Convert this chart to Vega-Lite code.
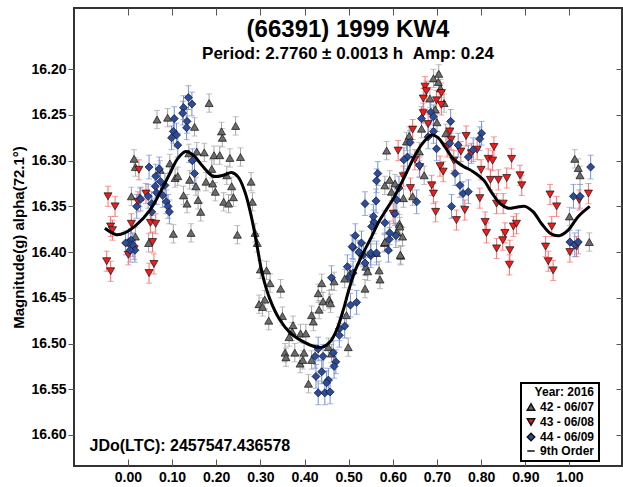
{
"$schema": "https://vega.github.io/schema/vega-lite/v6.json",
"width": 548, "height": 458,
"autosize": {"type": "none"},
"padding": {"left": 74, "top": 8, "right": 1, "bottom": 21},
"background": "white",
"config": {
  "font": "Liberation Sans",
  "view": {"stroke": "#333333", "strokeWidth": 2},
  "axis": {"labelFont": "Liberation Sans", "labelFontWeight": "bold", "labelFontSize": 14, "labelColor": "black", "titleFont": "Liberation Sans", "titleFontWeight": "bold", "titleFontSize": 15, "titleColor": "black", "domain": false, "grid": false, "tickColor": "#555555", "tickWidth": 1},
  "legend": {"strokeColor": "black", "strokeWidth": 2}
},
"title": {"text": "(66391) 1999 KW4", "subtitle": "Period: 2.7760 ± 0.0013 h \u00a0Amp: 0.24", "anchor": "middle", "frame": "group", "offset": -54, "font": "Liberation Sans", "fontSize": 24, "fontWeight": "bold", "color": "black", "subtitleFont": "Liberation Sans", "subtitleFontSize": 17, "subtitleFontWeight": "bold", "subtitleColor": "black", "subtitlePadding": 4},
"datasets": {
"pts": [
{"s":"42 - 06/07","p":0.066,"m":16.255,"e":0.010},
{"s":"42 - 06/07","p":0.090,"m":16.253,"e":0.010},
{"s":"42 - 06/07","p":0.184,"m":16.237,"e":0.010},
{"s":"42 - 06/07","p":0.151,"m":16.263,"e":0.010},
{"s":"42 - 06/07","p":0.212,"m":16.268,"e":0.010},
{"s":"42 - 06/07","p":0.244,"m":16.262,"e":0.010},
{"s":"42 - 06/07","p":0.214,"m":16.275,"e":0.010},
{"s":"42 - 06/07","p":0.014,"m":16.298,"e":0.010},
{"s":"42 - 06/07","p":0.017,"m":16.307,"e":0.010},
{"s":"42 - 06/07","p":0.073,"m":16.310,"e":0.010},
{"s":"42 - 06/07","p":0.095,"m":16.303,"e":0.010},
{"s":"42 - 06/07","p":0.138,"m":16.292,"e":0.010},
{"s":"42 - 06/07","p":0.156,"m":16.290,"e":0.010},
{"s":"42 - 06/07","p":0.173,"m":16.291,"e":0.010},
{"s":"42 - 06/07","p":0.195,"m":16.294,"e":0.010},
{"s":"42 - 06/07","p":0.208,"m":16.294,"e":0.010},
{"s":"42 - 06/07","p":0.231,"m":16.297,"e":0.010},
{"s":"42 - 06/07","p":0.255,"m":16.296,"e":0.010},
{"s":"42 - 06/07","p":0.107,"m":16.319,"e":0.010},
{"s":"42 - 06/07","p":0.113,"m":16.317,"e":0.010},
{"s":"42 - 06/07","p":0.140,"m":16.321,"e":0.010},
{"s":"42 - 06/07","p":0.154,"m":16.328,"e":0.010},
{"s":"42 - 06/07","p":0.177,"m":16.323,"e":0.010},
{"s":"42 - 06/07","p":0.190,"m":16.309,"e":0.010},
{"s":"42 - 06/07","p":0.192,"m":16.325,"e":0.010},
{"s":"42 - 06/07","p":0.198,"m":16.334,"e":0.010},
{"s":"42 - 06/07","p":0.235,"m":16.328,"e":0.010},
{"s":"42 - 06/07","p":0.224,"m":16.316,"e":0.010},
{"s":"42 - 06/07","p":0.217,"m":16.345,"e":0.010},
{"s":"42 - 06/07","p":0.228,"m":16.347,"e":0.010},
{"s":"42 - 06/07","p":0.239,"m":16.340,"e":0.010},
{"s":"42 - 06/07","p":0.279,"m":16.323,"e":0.010},
{"s":"42 - 06/07","p":0.282,"m":16.345,"e":0.010},
{"s":"42 - 06/07","p":0.159,"m":16.343,"e":0.010},
{"s":"42 - 06/07","p":0.165,"m":16.356,"e":0.010},
{"s":"42 - 06/07","p":0.134,"m":16.347,"e":0.010},
{"s":"42 - 06/07","p":0.126,"m":16.338,"e":0.010},
{"s":"42 - 06/07","p":0.103,"m":16.380,"e":0.010},
{"s":"42 - 06/07","p":0.143,"m":16.379,"e":0.010},
{"s":"42 - 06/07","p":0.248,"m":16.381,"e":0.010},
{"s":"42 - 06/07","p":0.288,"m":16.379,"e":0.010},
{"s":"42 - 06/07","p":0.293,"m":16.390,"e":0.010},
{"s":"42 - 06/07","p":0.300,"m":16.419,"e":0.010},
{"s":"42 - 06/07","p":0.314,"m":16.420,"e":0.010},
{"s":"42 - 06/07","p":0.047,"m":16.390,"e":0.010},
{"s":"42 - 06/07","p":0.017,"m":16.383,"e":0.010},
{"s":"42 - 06/07","p":0.008,"m":16.339,"e":0.010},
{"s":"42 - 06/07","p":0.027,"m":16.340,"e":0.010},
{"s":"42 - 06/07","p":0.322,"m":16.434,"e":0.010},
{"s":"42 - 06/07","p":0.346,"m":16.440,"e":0.010},
{"s":"42 - 06/07","p":0.297,"m":16.457,"e":0.010},
{"s":"42 - 06/07","p":0.305,"m":16.460,"e":0.010},
{"s":"42 - 06/07","p":0.310,"m":16.452,"e":0.010},
{"s":"42 - 06/07","p":0.319,"m":16.475,"e":0.010},
{"s":"42 - 06/07","p":0.350,"m":16.470,"e":0.010},
{"s":"42 - 06/07","p":0.374,"m":16.480,"e":0.010},
{"s":"42 - 06/07","p":0.372,"m":16.487,"e":0.010},
{"s":"42 - 06/07","p":0.391,"m":16.489,"e":0.010},
{"s":"42 - 06/07","p":0.403,"m":16.489,"e":0.010},
{"s":"42 - 06/07","p":0.365,"m":16.493,"e":0.010},
{"s":"42 - 06/07","p":0.356,"m":16.510,"e":0.010},
{"s":"42 - 06/07","p":0.358,"m":16.515,"e":0.010},
{"s":"42 - 06/07","p":0.378,"m":16.510,"e":0.010},
{"s":"42 - 06/07","p":0.399,"m":16.510,"e":0.010},
{"s":"42 - 06/07","p":0.390,"m":16.522,"e":0.010},
{"s":"42 - 06/07","p":0.396,"m":16.518,"e":0.010},
{"s":"42 - 06/07","p":0.409,"m":16.544,"e":0.010},
{"s":"42 - 06/07","p":0.416,"m":16.518,"e":0.010},
{"s":"42 - 06/07","p":0.420,"m":16.476,"e":0.010},
{"s":"42 - 06/07","p":0.416,"m":16.469,"e":0.010},
{"s":"42 - 06/07","p":0.433,"m":16.463,"e":0.010},
{"s":"42 - 06/07","p":0.439,"m":16.434,"e":0.010},
{"s":"42 - 06/07","p":0.442,"m":16.454,"e":0.010},
{"s":"42 - 06/07","p":0.431,"m":16.445,"e":0.010},
{"s":"42 - 06/07","p":0.456,"m":16.452,"e":0.010},
{"s":"42 - 06/07","p":0.459,"m":16.456,"e":0.010},
{"s":"42 - 06/07","p":0.467,"m":16.432,"e":0.010},
{"s":"42 - 06/07","p":0.454,"m":16.504,"e":0.010},
{"s":"42 - 06/07","p":0.461,"m":16.511,"e":0.010},
{"s":"42 - 06/07","p":0.499,"m":16.504,"e":0.010},
{"s":"42 - 06/07","p":0.495,"m":16.469,"e":0.010},
{"s":"42 - 06/07","p":0.491,"m":16.429,"e":0.010},
{"s":"42 - 06/07","p":0.503,"m":16.423,"e":0.010},
{"s":"42 - 06/07","p":0.539,"m":16.416,"e":0.010},
{"s":"42 - 06/07","p":0.543,"m":16.421,"e":0.010},
{"s":"42 - 06/07","p":0.537,"m":16.440,"e":0.010},
{"s":"42 - 06/07","p":0.571,"m":16.430,"e":0.010},
{"s":"42 - 06/07","p":0.569,"m":16.420,"e":0.010},
{"s":"42 - 06/07","p":0.563,"m":16.401,"e":0.010},
{"s":"42 - 06/07","p":0.618,"m":16.404,"e":0.010},
{"s":"42 - 06/07","p":0.581,"m":16.390,"e":0.010},
{"s":"42 - 06/07","p":0.615,"m":16.369,"e":0.010},
{"s":"42 - 06/07","p":0.622,"m":16.383,"e":0.010},
{"s":"42 - 06/07","p":0.609,"m":16.378,"e":0.010},
{"s":"42 - 06/07","p":0.586,"m":16.289,"e":0.010},
{"s":"42 - 06/07","p":0.692,"m":16.210,"e":0.010},
{"s":"42 - 06/07","p":0.704,"m":16.205,"e":0.010},
{"s":"42 - 06/07","p":0.703,"m":16.214,"e":0.010},
{"s":"42 - 06/07","p":0.708,"m":16.221,"e":0.010},
{"s":"42 - 06/07","p":0.684,"m":16.232,"e":0.010},
{"s":"42 - 06/07","p":0.716,"m":16.237,"e":0.010},
{"s":"42 - 06/07","p":0.696,"m":16.244,"e":0.010},
{"s":"42 - 06/07","p":0.665,"m":16.265,"e":0.010},
{"s":"42 - 06/07","p":0.637,"m":16.273,"e":0.010},
{"s":"42 - 06/07","p":0.631,"m":16.279,"e":0.010},
{"s":"42 - 06/07","p":0.593,"m":16.321,"e":0.010},
{"s":"42 - 06/07","p":0.605,"m":16.325,"e":0.010},
{"s":"42 - 06/07","p":0.582,"m":16.327,"e":0.010},
{"s":"42 - 06/07","p":0.597,"m":16.334,"e":0.010},
{"s":"42 - 06/07","p":0.624,"m":16.341,"e":0.010},
{"s":"42 - 06/07","p":0.645,"m":16.339,"e":0.010},
{"s":"42 - 06/07","p":0.671,"m":16.316,"e":0.010},
{"s":"42 - 06/07","p":0.660,"m":16.290,"e":0.010},
{"s":"42 - 06/07","p":0.700,"m":16.258,"e":0.010},
{"s":"42 - 06/07","p":0.720,"m":16.270,"e":0.010},
{"s":"42 - 06/07","p":0.582,"m":16.389,"e":0.010},
{"s":"42 - 06/07","p":0.616,"m":16.372,"e":0.010},
{"s":"42 - 06/07","p":0.617,"m":16.403,"e":0.010},
{"s":"42 - 06/07","p":1.012,"m":16.298,"e":0.010},
{"s":"42 - 06/07","p":1.020,"m":16.308,"e":0.010},
{"s":"42 - 06/07","p":1.024,"m":16.316,"e":0.010},
{"s":"42 - 06/07","p":1.045,"m":16.389,"e":0.010},
{"s":"42 - 06/07","p":1.000,"m":16.361,"e":0.010},
{"s":"43 - 06/08","p":-0.045,"m":16.339,"e":0.011},
{"s":"43 - 06/08","p":-0.029,"m":16.350,"e":0.011},
{"s":"43 - 06/08","p":-0.039,"m":16.372,"e":0.011},
{"s":"43 - 06/08","p":-0.035,"m":16.376,"e":0.011},
{"s":"43 - 06/08","p":-0.048,"m":16.410,"e":0.011},
{"s":"43 - 06/08","p":-0.039,"m":16.421,"e":0.011},
{"s":"43 - 06/08","p":0.025,"m":16.310,"e":0.011},
{"s":"43 - 06/08","p":0.041,"m":16.336,"e":0.011},
{"s":"43 - 06/08","p":0.023,"m":16.345,"e":0.011},
{"s":"43 - 06/08","p":0.051,"m":16.368,"e":0.011},
{"s":"43 - 06/08","p":0.063,"m":16.369,"e":0.011},
{"s":"43 - 06/08","p":0.056,"m":16.389,"e":0.011},
{"s":"43 - 06/08","p":0.059,"m":16.413,"e":0.011},
{"s":"43 - 06/08","p":0.048,"m":16.423,"e":0.011},
{"s":"43 - 06/08","p":0.008,"m":16.369,"e":0.011},
{"s":"43 - 06/08","p":0.001,"m":16.403,"e":0.011},
{"s":"43 - 06/08","p":0.014,"m":16.397,"e":0.011},
{"s":"43 - 06/08","p":0.612,"m":16.289,"e":0.011},
{"s":"43 - 06/08","p":0.645,"m":16.266,"e":0.011},
{"s":"43 - 06/08","p":0.601,"m":16.358,"e":0.011},
{"s":"43 - 06/08","p":0.673,"m":16.219,"e":0.011},
{"s":"43 - 06/08","p":0.676,"m":16.224,"e":0.011},
{"s":"43 - 06/08","p":0.669,"m":16.232,"e":0.011},
{"s":"43 - 06/08","p":0.710,"m":16.226,"e":0.011},
{"s":"43 - 06/08","p":0.710,"m":16.239,"e":0.011},
{"s":"43 - 06/08","p":0.699,"m":16.234,"e":0.011},
{"s":"43 - 06/08","p":0.669,"m":16.248,"e":0.011},
{"s":"43 - 06/08","p":0.729,"m":16.268,"e":0.011},
{"s":"43 - 06/08","p":0.732,"m":16.277,"e":0.011},
{"s":"43 - 06/08","p":0.723,"m":16.285,"e":0.011},
{"s":"43 - 06/08","p":0.766,"m":16.273,"e":0.011},
{"s":"43 - 06/08","p":0.778,"m":16.292,"e":0.011},
{"s":"43 - 06/08","p":0.791,"m":16.288,"e":0.011},
{"s":"43 - 06/08","p":0.829,"m":16.285,"e":0.011},
{"s":"43 - 06/08","p":0.816,"m":16.298,"e":0.011},
{"s":"43 - 06/08","p":0.826,"m":16.300,"e":0.011},
{"s":"43 - 06/08","p":0.869,"m":16.298,"e":0.011},
{"s":"43 - 06/08","p":0.858,"m":16.319,"e":0.011},
{"s":"43 - 06/08","p":0.888,"m":16.316,"e":0.011},
{"s":"43 - 06/08","p":0.892,"m":16.327,"e":0.011},
{"s":"43 - 06/08","p":0.839,"m":16.321,"e":0.011},
{"s":"43 - 06/08","p":0.821,"m":16.321,"e":0.011},
{"s":"43 - 06/08","p":0.650,"m":16.299,"e":0.011},
{"s":"43 - 06/08","p":0.661,"m":16.307,"e":0.011},
{"s":"43 - 06/08","p":0.707,"m":16.306,"e":0.011},
{"s":"43 - 06/08","p":0.714,"m":16.312,"e":0.011},
{"s":"43 - 06/08","p":0.688,"m":16.327,"e":0.011},
{"s":"43 - 06/08","p":0.692,"m":16.336,"e":0.011},
{"s":"43 - 06/08","p":0.697,"m":16.356,"e":0.011},
{"s":"43 - 06/08","p":0.744,"m":16.365,"e":0.011},
{"s":"43 - 06/08","p":0.763,"m":16.354,"e":0.011},
{"s":"43 - 06/08","p":0.797,"m":16.341,"e":0.011},
{"s":"43 - 06/08","p":0.809,"m":16.367,"e":0.011},
{"s":"43 - 06/08","p":0.812,"m":16.379,"e":0.011},
{"s":"43 - 06/08","p":0.835,"m":16.347,"e":0.011},
{"s":"43 - 06/08","p":0.850,"m":16.347,"e":0.011},
{"s":"43 - 06/08","p":0.835,"m":16.396,"e":0.011},
{"s":"43 - 06/08","p":0.849,"m":16.387,"e":0.011},
{"s":"43 - 06/08","p":0.854,"m":16.379,"e":0.011},
{"s":"43 - 06/08","p":0.865,"m":16.398,"e":0.011},
{"s":"43 - 06/08","p":0.873,"m":16.372,"e":0.011},
{"s":"43 - 06/08","p":0.880,"m":16.369,"e":0.011},
{"s":"43 - 06/08","p":0.864,"m":16.414,"e":0.011},
{"s":"43 - 06/08","p":0.946,"m":16.394,"e":0.011},
{"s":"43 - 06/08","p":0.952,"m":16.410,"e":0.011},
{"s":"43 - 06/08","p":0.963,"m":16.420,"e":0.011},
{"s":"43 - 06/08","p":0.956,"m":16.337,"e":0.011},
{"s":"43 - 06/08","p":0.971,"m":16.350,"e":0.011},
{"s":"43 - 06/08","p":0.960,"m":16.372,"e":0.011},
{"s":"43 - 06/08","p":1.001,"m":16.400,"e":0.011},
{"s":"43 - 06/08","p":1.016,"m":16.394,"e":0.011},
{"s":"43 - 06/08","p":1.022,"m":16.343,"e":0.011},
{"s":"43 - 06/08","p":1.043,"m":16.336,"e":0.011},
{"s":"43 - 06/08","p":0.624,"m":16.317,"e":0.011},
{"s":"43 - 06/08","p":0.738,"m":16.300,"e":0.011},
{"s":"43 - 06/08","p":0.754,"m":16.290,"e":0.011},
{"s":"43 - 06/08","p":0.680,"m":16.260,"e":0.011},
{"s":"43 - 06/08","p":0.640,"m":16.330,"e":0.011},
{"s":"43 - 06/08","p":0.800,"m":16.310,"e":0.011},
{"s":"44 - 06/09","p":0.137,"m":16.231,"e":0.013},
{"s":"44 - 06/09","p":0.145,"m":16.238,"e":0.013},
{"s":"44 - 06/09","p":0.126,"m":16.242,"e":0.013},
{"s":"44 - 06/09","p":0.124,"m":16.248,"e":0.013},
{"s":"44 - 06/09","p":0.105,"m":16.254,"e":0.013},
{"s":"44 - 06/09","p":0.134,"m":16.257,"e":0.013},
{"s":"44 - 06/09","p":0.133,"m":16.264,"e":0.013},
{"s":"44 - 06/09","p":0.103,"m":16.268,"e":0.013},
{"s":"44 - 06/09","p":0.110,"m":16.272,"e":0.013},
{"s":"44 - 06/09","p":0.099,"m":16.275,"e":0.013},
{"s":"44 - 06/09","p":0.113,"m":16.283,"e":0.013},
{"s":"44 - 06/09","p":0.146,"m":16.300,"e":0.013},
{"s":"44 - 06/09","p":0.151,"m":16.314,"e":0.013},
{"s":"44 - 06/09","p":0.048,"m":16.307,"e":0.013},
{"s":"44 - 06/09","p":0.071,"m":16.309,"e":0.013},
{"s":"44 - 06/09","p":0.063,"m":16.317,"e":0.013},
{"s":"44 - 06/09","p":0.074,"m":16.323,"e":0.013},
{"s":"44 - 06/09","p":0.062,"m":16.328,"e":0.013},
{"s":"44 - 06/09","p":0.084,"m":16.327,"e":0.013},
{"s":"44 - 06/09","p":0.065,"m":16.335,"e":0.013},
{"s":"44 - 06/09","p":0.079,"m":16.338,"e":0.013},
{"s":"44 - 06/09","p":0.046,"m":16.339,"e":0.013},
{"s":"44 - 06/09","p":0.054,"m":16.347,"e":0.013},
{"s":"44 - 06/09","p":0.087,"m":16.345,"e":0.013},
{"s":"44 - 06/09","p":0.091,"m":16.350,"e":0.013},
{"s":"44 - 06/09","p":0.094,"m":16.356,"e":0.013},
{"s":"44 - 06/09","p":0.020,"m":16.350,"e":0.013},
{"s":"44 - 06/09","p":0.029,"m":16.342,"e":0.013},
{"s":"44 - 06/09","p":0.054,"m":16.356,"e":0.013},
{"s":"44 - 06/09","p":0.007,"m":16.387,"e":0.013},
{"s":"44 - 06/09","p":0.011,"m":16.392,"e":0.013},
{"s":"44 - 06/09","p":0.001,"m":16.390,"e":0.013},
{"s":"44 - 06/09","p":0.016,"m":16.398,"e":0.013},
{"s":"44 - 06/09","p":0.005,"m":16.398,"e":0.013},
{"s":"44 - 06/09","p":-0.005,"m":16.390,"e":0.013},
{"s":"44 - 06/09","p":0.537,"m":16.347,"e":0.013},
{"s":"44 - 06/09","p":0.562,"m":16.344,"e":0.013},
{"s":"44 - 06/09","p":0.563,"m":16.322,"e":0.013},
{"s":"44 - 06/09","p":0.566,"m":16.314,"e":0.013},
{"s":"44 - 06/09","p":0.557,"m":16.367,"e":0.013},
{"s":"44 - 06/09","p":0.515,"m":16.382,"e":0.013},
{"s":"44 - 06/09","p":0.510,"m":16.395,"e":0.013},
{"s":"44 - 06/09","p":0.525,"m":16.401,"e":0.013},
{"s":"44 - 06/09","p":0.552,"m":16.372,"e":0.013},
{"s":"44 - 06/09","p":0.508,"m":16.394,"e":0.013},
{"s":"44 - 06/09","p":0.523,"m":16.400,"e":0.013},
{"s":"44 - 06/09","p":0.529,"m":16.390,"e":0.013},
{"s":"44 - 06/09","p":0.533,"m":16.403,"e":0.013},
{"s":"44 - 06/09","p":0.550,"m":16.404,"e":0.013},
{"s":"44 - 06/09","p":0.537,"m":16.412,"e":0.013},
{"s":"44 - 06/09","p":0.497,"m":16.416,"e":0.013},
{"s":"44 - 06/09","p":0.503,"m":16.428,"e":0.013},
{"s":"44 - 06/09","p":0.510,"m":16.423,"e":0.013},
{"s":"44 - 06/09","p":0.461,"m":16.428,"e":0.013},
{"s":"44 - 06/09","p":0.518,"m":16.455,"e":0.013},
{"s":"44 - 06/09","p":0.504,"m":16.458,"e":0.013},
{"s":"44 - 06/09","p":0.491,"m":16.481,"e":0.013},
{"s":"44 - 06/09","p":0.479,"m":16.484,"e":0.013},
{"s":"44 - 06/09","p":0.479,"m":16.491,"e":0.013},
{"s":"44 - 06/09","p":0.465,"m":16.510,"e":0.013},
{"s":"44 - 06/09","p":0.471,"m":16.520,"e":0.013},
{"s":"44 - 06/09","p":0.467,"m":16.525,"e":0.013},
{"s":"44 - 06/09","p":0.454,"m":16.540,"e":0.013},
{"s":"44 - 06/09","p":0.450,"m":16.543,"e":0.013},
{"s":"44 - 06/09","p":0.439,"m":16.531,"e":0.013},
{"s":"44 - 06/09","p":0.426,"m":16.536,"e":0.013},
{"s":"44 - 06/09","p":0.431,"m":16.506,"e":0.013},
{"s":"44 - 06/09","p":0.442,"m":16.514,"e":0.013},
{"s":"44 - 06/09","p":0.424,"m":16.514,"e":0.013},
{"s":"44 - 06/09","p":0.431,"m":16.554,"e":0.013},
{"s":"44 - 06/09","p":0.446,"m":16.554,"e":0.013},
{"s":"44 - 06/09","p":0.458,"m":16.553,"e":0.013},
{"s":"44 - 06/09","p":0.607,"m":16.382,"e":0.013},
{"s":"44 - 06/09","p":0.592,"m":16.386,"e":0.013},
{"s":"44 - 06/09","p":0.605,"m":16.358,"e":0.013},
{"s":"44 - 06/09","p":0.582,"m":16.368,"e":0.013},
{"s":"44 - 06/09","p":0.556,"m":16.361,"e":0.013},
{"s":"44 - 06/09","p":0.686,"m":16.247,"e":0.013},
{"s":"44 - 06/09","p":0.692,"m":16.252,"e":0.013},
{"s":"44 - 06/09","p":0.665,"m":16.254,"e":0.013},
{"s":"44 - 06/09","p":0.731,"m":16.257,"e":0.013},
{"s":"44 - 06/09","p":0.692,"m":16.268,"e":0.013},
{"s":"44 - 06/09","p":0.680,"m":16.274,"e":0.013},
{"s":"44 - 06/09","p":0.639,"m":16.280,"e":0.013},
{"s":"44 - 06/09","p":0.633,"m":16.296,"e":0.013},
{"s":"44 - 06/09","p":0.625,"m":16.299,"e":0.013},
{"s":"44 - 06/09","p":0.660,"m":16.305,"e":0.013},
{"s":"44 - 06/09","p":0.614,"m":16.330,"e":0.013},
{"s":"44 - 06/09","p":0.609,"m":16.343,"e":0.013},
{"s":"44 - 06/09","p":0.654,"m":16.345,"e":0.013},
{"s":"44 - 06/09","p":0.699,"m":16.287,"e":0.013},
{"s":"44 - 06/09","p":0.729,"m":16.281,"e":0.013},
{"s":"44 - 06/09","p":0.748,"m":16.283,"e":0.013},
{"s":"44 - 06/09","p":0.801,"m":16.270,"e":0.013},
{"s":"44 - 06/09","p":0.797,"m":16.276,"e":0.013},
{"s":"44 - 06/09","p":0.782,"m":16.288,"e":0.013},
{"s":"44 - 06/09","p":0.771,"m":16.296,"e":0.013},
{"s":"44 - 06/09","p":0.741,"m":16.314,"e":0.013},
{"s":"44 - 06/09","p":0.752,"m":16.327,"e":0.013},
{"s":"44 - 06/09","p":0.759,"m":16.336,"e":0.013},
{"s":"44 - 06/09","p":0.771,"m":16.334,"e":0.013},
{"s":"44 - 06/09","p":0.733,"m":16.350,"e":0.013},
{"s":"44 - 06/09","p":0.593,"m":16.379,"e":0.013},
{"s":"44 - 06/09","p":0.550,"m":16.401,"e":0.013},
{"s":"44 - 06/09","p":0.563,"m":16.401,"e":0.013},
{"s":"44 - 06/09","p":0.590,"m":16.398,"e":0.013},
{"s":"44 - 06/09","p":1.048,"m":16.307,"e":0.013},
{"s":"44 - 06/09","p":1.009,"m":16.339,"e":0.013},
{"s":"44 - 06/09","p":1.024,"m":16.339,"e":0.013},
{"s":"44 - 06/09","p":1.001,"m":16.389,"e":0.013},
{"s":"44 - 06/09","p":1.012,"m":16.392,"e":0.013},
{"s":"44 - 06/09","p":1.020,"m":16.389,"e":0.013}
],
"fit": [
{"p":-0.052,"m":16.374},{"p":-0.026,"m":16.381},{"p":-0.007,"m":16.379},{"p":0.020,"m":16.370},
{"p":0.050,"m":16.354},{"p":0.076,"m":16.332},{"p":0.095,"m":16.314},{"p":0.114,"m":16.297},
{"p":0.131,"m":16.290},{"p":0.148,"m":16.294},{"p":0.171,"m":16.307},{"p":0.193,"m":16.317},
{"p":0.216,"m":16.316},{"p":0.235,"m":16.313},{"p":0.250,"m":16.318},{"p":0.265,"m":16.334},
{"p":0.280,"m":16.362},{"p":0.292,"m":16.392},{"p":0.305,"m":16.425},{"p":0.322,"m":16.452},
{"p":0.344,"m":16.474},{"p":0.367,"m":16.488},{"p":0.397,"m":16.498},{"p":0.420,"m":16.503},
{"p":0.440,"m":16.504},{"p":0.458,"m":16.498},{"p":0.473,"m":16.485},{"p":0.488,"m":16.463},
{"p":0.500,"m":16.442},{"p":0.514,"m":16.421},{"p":0.533,"m":16.401},{"p":0.552,"m":16.383},
{"p":0.567,"m":16.368},{"p":0.586,"m":16.353},{"p":0.603,"m":16.340},{"p":0.620,"m":16.324},
{"p":0.640,"m":16.304},{"p":0.655,"m":16.290},{"p":0.669,"m":16.280},{"p":0.688,"m":16.272},
{"p":0.703,"m":16.275},{"p":0.718,"m":16.285},{"p":0.737,"m":16.298},{"p":0.759,"m":16.306},
{"p":0.782,"m":16.312},{"p":0.805,"m":16.321},{"p":0.824,"m":16.335},{"p":0.843,"m":16.347},
{"p":0.861,"m":16.352},{"p":0.880,"m":16.351},{"p":0.899,"m":16.350},{"p":0.918,"m":16.356},
{"p":0.937,"m":16.369},{"p":0.958,"m":16.380},{"p":0.978,"m":16.382},{"p":0.997,"m":16.376},
{"p":1.020,"m":16.361},{"p":1.046,"m":16.350}
]
},
"layer": [
{
  "data": {"name": "pts"},
  "mark": {"type": "errorbar", "ticks": {"size": 6}, "thickness": 1},
  "encoding": {
    "x": {"field": "p", "type": "quantitative", "scale": {"domain": [-0.122, 1.119], "nice": false, "zero": false},
      "axis": {"orient": "bottom", "values": [0,0.1,0.2,0.3,0.4,0.5,0.6,0.7,0.8,0.9,1.0], "format": ".2f", "tickSize": -7, "labelPadding": 11,
        "title": "JDo(LTC): 2457547.436578", "titleX": 15, "titleY": -21, "titleAlign": "left", "titleAnchor": "start", "titleBaseline": "middle", "titleFontSize": 16, "titleAngle": 0}},
    "y": {"field": "m", "type": "quantitative", "scale": {"domain": [16.133, 16.634], "reverse": true, "nice": false, "zero": false},
      "axis": {"orient": "left", "values": [16.2,16.25,16.3,16.35,16.4,16.45,16.5,16.55,16.6], "format": ".2f", "tickSize": 6, "labelPadding": 2, "title": "Magnitude(g) alpha(72.1°)", "titlePadding": 4}},
    "yError": {"field": "e"},
    "color": {"field": "s", "type": "nominal", "scale": {"domain": ["42 - 06/07","43 - 06/08","44 - 06/09"], "range": ["#a6a6a6","#ff6b6b","#7590d6"]}, "legend": null}
  }
},
{
  "data": {"name": "pts"},
  "mark": {"type": "point", "filled": true, "stroke": "#111111", "strokeWidth": 0.7, "opacity": 1, "size": 65},
  "encoding": {
    "x": {"field": "p", "type": "quantitative", "scale": {"domain": [-0.122, 1.119], "nice": false, "zero": false},
      "axis": {"orient": "top", "values": [0,0.1,0.2,0.3,0.4,0.5,0.6,0.7,0.8,0.9,1.0], "labels": false, "tickSize": -7, "title": null}},
    "y": {"field": "m", "type": "quantitative", "scale": {"domain": [16.133, 16.634], "reverse": true, "nice": false, "zero": false},
      "axis": {"orient": "right", "values": [16.2,16.25,16.3,16.35,16.4,16.45,16.5,16.55,16.6], "labels": false, "tickSize": -6, "title": null}},
    "fill": {"field": "s", "type": "nominal",
      "scale": {"domain": ["42 - 06/07","43 - 06/08","44 - 06/09","9th Order"], "range": ["#6b6b6b","#f01c1c","#2b4c9e","#000000"]},
      "legend": {"title": "Year: 2016", "orient": "none", "legendX": 447, "legendY": 375, "direction": "vertical",
        "fillColor": "white", "strokeColor": "black", "padding": 4, "titleAnchor": "end", "titleFont": "Liberation Sans", "titleFontSize": 12, "titleFontWeight": "bold", "titleColor": "black", "titlePadding": 2,
        "labelFont": "Liberation Sans", "labelFontSize": 12, "labelFontWeight": "bold", "labelColor": "black", "labelOffset": 3, "rowPadding": 1, "symbolSize": 55, "symbolStrokeColor": "#111111",
        "encode": {
          "symbols": {
            "strokeWidth": {"condition": {"test": "datum.value === '9th Order'", "value": 3}, "value": 0.7},
            "size": {"condition": {"test": "datum.value === '9th Order'", "value": 200}, "value": 55},
            "stroke": {"value": "#111111"}
          }
        }}},
    "shape": {"field": "s", "type": "nominal",
      "scale": {"domain": ["42 - 06/07","43 - 06/08","44 - 06/09","9th Order"], "range": ["triangle-up","triangle-down","diamond","stroke"]}}
  }
},
{
  "data": {"name": "fit"},
  "mark": {"type": "line", "color": "black", "strokeWidth": 3, "interpolate": "catmull-rom"},
  "encoding": {
    "x": {"field": "p", "type": "quantitative", "scale": {"domain": [-0.122, 1.119], "nice": false, "zero": false}, "axis": null},
    "y": {"field": "m", "type": "quantitative", "scale": {"domain": [16.133, 16.634], "reverse": true, "nice": false, "zero": false}, "axis": null}
  }
}
],
"resolve": {"axis": {"x": "independent", "y": "independent"}}
}
